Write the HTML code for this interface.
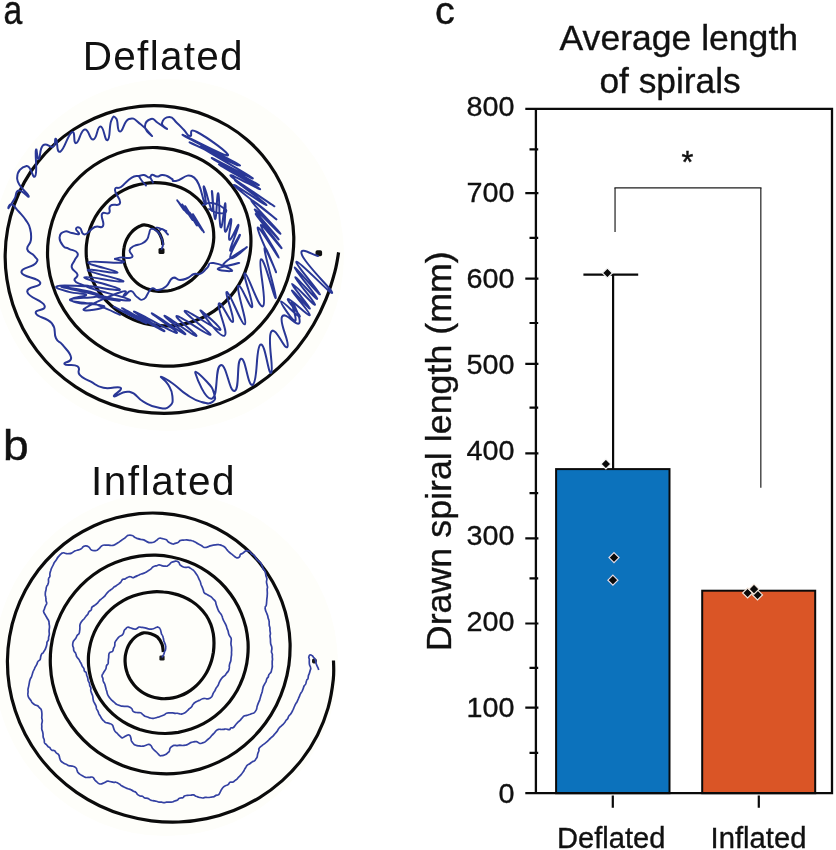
<!DOCTYPE html>
<html><head><meta charset="utf-8"><title>figure</title>
<style>html,body{margin:0;padding:0;background:#fff}body{width:836px;height:850px;overflow:hidden;font-family:"Liberation Sans",sans-serif}svg{display:block}text{filter:grayscale(1)}text.b{stroke:#111;stroke-width:0.35px}text.l{stroke:#111;stroke-width:0.45px}text{font-family:"Liberation Sans",sans-serif;fill:#111}</style>
</head><body>
<svg width="836" height="850" viewBox="0 0 836 850">
<rect width="836" height="850" fill="#fff"/>
<circle cx="168" cy="255" r="176" fill="#fefefa"/><circle cx="166" cy="664" r="172" fill="#fefefa"/>
<!--SPIRALS-->
<path d="M162.9 245.0C162.7 244.0 162.6 241.0 161.8 238.8C161.0 236.6 159.9 233.8 158.3 231.8C156.7 229.8 154.6 228.2 152.2 227.0C149.8 225.8 146.3 224.9 144.2 224.8C142.1 224.7 141.1 225.6 139.6 226.3C138.1 227.0 136.6 227.9 135.2 228.9C133.8 229.9 132.5 231.1 131.3 232.5C130.1 233.8 129.0 235.3 128.1 236.9C127.1 238.5 126.3 240.2 125.6 242.0C124.9 243.8 124.4 245.7 124.1 247.6C123.7 249.6 123.5 251.6 123.5 253.7C123.5 255.7 123.6 257.8 123.9 259.9C124.2 262.0 124.7 264.1 125.4 266.2C126.2 268.3 127.1 270.3 128.1 272.3C129.2 274.3 130.5 276.2 132.0 278.0C133.5 279.7 135.1 281.4 137.0 282.9C138.8 284.4 140.8 285.7 142.9 286.9C145.0 288.0 147.2 288.9 149.5 289.6C151.8 290.3 154.2 290.8 156.7 291.1C159.1 291.4 161.5 291.4 164.0 291.2C166.4 291.1 168.9 290.7 171.3 290.2C173.7 289.6 176.0 288.9 178.3 287.9C180.6 287.0 182.9 285.9 185.0 284.6C187.2 283.4 189.3 281.9 191.3 280.4C193.3 278.8 195.2 277.1 197.0 275.2C198.8 273.4 200.5 271.4 202.1 269.3C203.7 267.1 205.3 264.9 206.6 262.5C208.0 260.1 209.2 257.5 210.2 254.8C211.2 252.2 212.1 249.4 212.7 246.5C213.3 243.6 213.7 240.5 213.8 237.5C213.8 234.4 213.7 231.3 213.2 228.2C212.7 225.1 212.0 221.9 210.9 218.9C209.8 215.9 208.4 212.9 206.7 210.1C205.1 207.3 203.1 204.6 200.9 202.1C198.7 199.6 196.2 197.2 193.5 195.2C190.9 193.1 188.0 191.3 185.0 189.7C182.0 188.1 178.7 186.8 175.5 185.8C172.2 184.7 168.8 183.9 165.4 183.4C161.9 182.9 158.4 182.6 154.9 182.6C151.4 182.6 147.8 182.9 144.3 183.5C140.8 184.0 137.3 184.8 133.8 185.9C130.4 187.0 127.0 188.4 123.7 190.1C120.4 191.8 117.2 193.7 114.2 195.9C111.2 198.1 108.3 200.6 105.7 203.3C103.1 206.0 100.6 209.0 98.4 212.2C96.2 215.3 94.2 218.7 92.6 222.3C90.9 225.8 89.6 229.5 88.5 233.4C87.5 237.2 86.8 241.2 86.4 245.1C86.1 249.1 86.1 253.2 86.4 257.2C86.8 261.2 87.5 265.3 88.5 269.2C89.6 273.1 91.0 277.1 92.7 280.8C94.4 284.5 96.4 288.1 98.8 291.5C101.1 295.0 103.7 298.2 106.6 301.2C109.4 304.2 112.6 307.0 115.9 309.5C119.3 312.1 122.8 314.4 126.6 316.3C130.3 318.3 134.2 320.0 138.2 321.4C142.2 322.8 146.4 323.9 150.6 324.6C154.8 325.4 159.2 325.8 163.5 325.9C167.9 326.0 172.3 325.8 176.6 325.3C181.0 324.7 185.4 323.8 189.7 322.6C194.0 321.3 198.3 319.7 202.4 317.8C206.5 315.8 210.5 313.5 214.3 310.9C218.1 308.2 221.8 305.2 225.1 302.0C228.5 298.7 231.7 295.1 234.5 291.2C237.3 287.4 239.9 283.2 242.0 278.9C244.2 274.6 246.0 270.0 247.4 265.3C248.8 260.6 249.8 255.6 250.4 250.7C251.0 245.8 251.1 240.7 250.8 235.7C250.5 230.7 249.8 225.7 248.6 220.7C247.5 215.8 245.9 210.9 243.9 206.2C241.9 201.5 239.5 196.9 236.7 192.6C234.0 188.3 230.8 184.1 227.3 180.3C223.9 176.4 220.1 172.8 216.0 169.5C211.9 166.3 207.5 163.3 203.0 160.7C198.4 158.1 193.5 155.9 188.6 154.0C183.6 152.2 178.4 150.7 173.2 149.6C167.9 148.6 162.5 147.9 157.1 147.6C151.7 147.4 146.2 147.6 140.8 148.2C135.3 148.8 129.8 149.8 124.5 151.3C119.1 152.8 113.8 154.7 108.7 157.1C103.5 159.5 98.5 162.3 93.8 165.5C89.1 168.7 84.5 172.3 80.3 176.3C76.1 180.3 72.1 184.7 68.6 189.4C65.1 194.1 61.9 199.2 59.2 204.5C56.5 209.8 54.1 215.4 52.3 221.2C50.6 226.9 49.2 232.9 48.4 239.0C47.6 245.0 47.4 251.2 47.6 257.3C47.9 263.4 48.7 269.7 50.0 275.7C51.4 281.7 53.3 287.7 55.6 293.5C57.9 299.3 60.8 304.9 64.1 310.2C67.4 315.5 71.2 320.7 75.3 325.4C79.5 330.1 84.1 334.6 89.0 338.6C93.8 342.6 99.1 346.2 104.6 349.4C110.1 352.6 115.9 355.5 121.9 357.8C127.9 360.1 134.1 361.9 140.4 363.3C146.7 364.7 153.2 365.6 159.7 365.9C166.2 366.3 172.9 366.2 179.4 365.6C186.0 364.9 192.6 363.8 199.1 362.1C205.5 360.5 212.0 358.3 218.1 355.5C224.3 352.8 230.4 349.6 236.2 345.9C241.9 342.1 247.5 337.9 252.6 333.2C257.7 328.5 262.6 323.3 266.9 317.8C271.3 312.3 275.2 306.2 278.6 300.0C282.0 293.7 284.9 287.0 287.2 280.2C289.5 273.4 291.3 266.2 292.4 259.1C293.4 251.9 293.9 244.4 293.8 237.1C293.6 229.8 292.8 222.3 291.4 215.1C289.9 207.9 287.8 200.6 285.2 193.7C282.5 186.8 279.2 180.0 275.4 173.5C271.6 167.1 267.2 160.9 262.4 155.2C257.6 149.5 252.2 144.1 246.4 139.2C240.7 134.3 234.5 129.9 228.0 126.0C221.5 122.1 214.6 118.7 207.6 115.9C200.5 113.1 193.1 110.8 185.7 109.1C178.2 107.5 170.5 106.4 162.9 105.9C155.2 105.5 147.4 105.6 139.7 106.3C132.0 107.1 124.3 108.5 116.7 110.4C109.2 112.4 101.7 115.0 94.5 118.2C87.3 121.4 80.3 125.2 73.6 129.5C67.0 133.8 60.6 138.7 54.6 144.1C48.7 149.5 43.1 155.4 38.1 161.8C33.0 168.1 28.4 175.0 24.4 182.1C20.5 189.2 17.0 196.8 14.2 204.6C11.4 212.4 9.2 220.5 7.7 228.7C6.2 236.9 5.3 245.4 5.2 253.9C5.0 262.3 5.6 270.9 6.9 279.3C8.1 287.8 10.1 296.2 12.8 304.4C15.5 312.6 18.9 320.7 22.9 328.4C26.9 336.1 31.7 343.6 37.0 350.6C42.3 357.6 48.3 364.2 54.7 370.3C61.2 376.3 68.2 381.9 75.7 386.8C83.1 391.8 91.1 396.1 99.3 399.8C107.5 403.4 116.1 406.4 124.9 408.6C133.6 410.8 142.7 412.2 151.7 412.9C160.8 413.6 170.0 413.5 179.1 412.7C188.1 411.8 197.3 410.2 206.1 407.8C214.9 405.5 223.7 402.4 232.1 398.6C240.4 394.9 248.6 390.4 256.3 385.3C264.0 380.2 271.4 374.5 278.2 368.2C285.1 362.0 291.5 355.2 297.4 347.9C303.3 340.6 308.7 332.8 313.4 324.7C318.2 316.6 322.4 308.0 326.0 299.1C329.6 290.3 332.8 279.4 334.9 271.6C337.0 263.8 338.0 255.6 338.6 252.4" fill="none" stroke="#0b0b0b" stroke-width="3.2" stroke-linecap="butt" stroke-linejoin="round"/>
<path d="M163.3 652.1C163.1 650.8 163.0 646.7 162.0 644.2C161.0 641.7 159.3 638.8 157.4 637.0C155.5 635.2 153.1 634.4 150.8 633.7C148.5 633.0 145.4 632.7 143.5 632.8C141.5 633.0 140.4 633.8 139.0 634.6C137.6 635.3 136.2 636.3 134.9 637.4C133.6 638.5 132.4 639.7 131.4 641.1C130.3 642.4 129.3 644.0 128.5 645.5C127.7 647.1 127.0 648.9 126.5 650.6C126.0 652.4 125.6 654.2 125.3 656.1C125.1 658.0 125.0 660.0 125.1 661.9C125.2 663.9 125.4 665.9 125.8 667.9C126.2 669.8 126.8 671.9 127.5 673.8C128.3 675.8 129.2 677.7 130.3 679.6C131.4 681.4 132.7 683.2 134.1 684.9C135.5 686.6 137.1 688.2 138.9 689.7C140.6 691.1 142.6 692.5 144.6 693.6C146.6 694.7 148.8 695.7 151.1 696.5C153.3 697.3 155.7 697.9 158.1 698.2C160.5 698.6 163.0 698.8 165.4 698.7C167.9 698.6 170.4 698.4 172.9 697.9C175.3 697.4 177.8 696.7 180.2 695.8C182.6 694.9 184.9 693.8 187.2 692.5C189.4 691.2 191.6 689.7 193.6 688.0C195.7 686.4 197.6 684.5 199.4 682.5C201.2 680.5 202.9 678.3 204.4 676.0C205.9 673.8 207.3 671.3 208.4 668.8C209.6 666.2 210.7 663.5 211.5 660.8C212.3 658.0 212.9 655.1 213.4 652.2C213.8 649.2 214.0 646.2 214.0 643.1C214.0 640.0 213.8 636.8 213.3 633.7C212.7 630.6 211.9 627.4 210.8 624.3C209.6 621.3 208.1 618.3 206.3 615.5C204.5 612.8 202.3 610.1 199.9 607.8C197.6 605.5 194.9 603.3 192.1 601.5C189.3 599.6 186.3 598.0 183.2 596.7C180.1 595.4 176.8 594.3 173.5 593.6C170.3 592.8 166.9 592.2 163.5 592.0C160.2 591.7 156.7 591.6 153.3 591.8C149.9 592.1 146.5 592.5 143.2 593.2C139.8 593.9 136.4 594.9 133.2 596.1C129.9 597.3 126.7 598.7 123.6 600.4C120.6 602.2 117.5 604.1 114.7 606.3C111.9 608.5 109.2 611.0 106.7 613.6C104.3 616.3 101.9 619.2 99.9 622.3C97.8 625.3 96.0 628.6 94.4 632.1C92.9 635.5 91.6 639.1 90.6 642.8C89.7 646.5 89.0 650.3 88.6 654.2C88.3 658.0 88.3 662.0 88.6 665.9C88.9 669.8 89.6 673.8 90.6 677.7C91.5 681.5 92.9 685.4 94.5 689.0C96.2 692.7 98.2 696.3 100.4 699.7C102.7 703.1 105.3 706.4 108.1 709.4C110.9 712.4 114.0 715.2 117.4 717.7C120.7 720.2 124.3 722.5 128.0 724.5C131.7 726.4 135.7 728.1 139.7 729.5C143.7 730.8 148.0 731.9 152.2 732.5C156.5 733.2 160.8 733.5 165.2 733.5C169.5 733.5 173.9 733.1 178.3 732.4C182.6 731.6 187.0 730.5 191.1 729.1C195.3 727.6 199.5 725.8 203.5 723.7C207.4 721.6 211.3 719.1 214.9 716.3C218.4 713.5 221.9 710.4 225.0 707.0C228.1 703.7 231.1 700.0 233.6 696.1C236.2 692.3 238.5 688.1 240.4 683.8C242.4 679.6 244.0 675.0 245.2 670.4C246.4 665.9 247.3 661.1 247.7 656.3C248.2 651.5 248.3 646.6 248.0 641.7C247.6 636.9 246.9 632.0 245.8 627.2C244.6 622.4 243.1 617.6 241.2 613.0C239.3 608.4 236.9 603.9 234.3 599.7C231.6 595.4 228.5 591.3 225.2 587.4C221.8 583.6 218.1 580.0 214.1 576.8C210.1 573.5 205.7 570.5 201.2 567.9C196.7 565.4 191.9 563.1 186.9 561.3C182.0 559.4 176.8 558.0 171.6 557.0C166.4 556.0 161.0 555.4 155.6 555.2C150.2 555.1 144.7 555.4 139.3 556.1C133.9 556.9 128.5 558.1 123.2 559.7C118.0 561.3 112.8 563.4 107.8 565.9C102.8 568.4 98.0 571.4 93.4 574.7C88.9 578.0 84.6 581.8 80.6 585.8C76.6 589.9 72.9 594.4 69.6 599.1C66.3 603.8 63.3 608.8 60.8 614.1C58.3 619.3 56.2 624.8 54.6 630.4C52.9 636.1 51.7 641.9 51.0 647.8C50.3 653.7 50.1 659.7 50.4 665.7C50.7 671.7 51.4 677.8 52.7 683.7C54.0 689.6 55.7 695.5 58.0 701.2C60.2 706.8 62.9 712.4 66.1 717.7C69.3 723.0 72.9 728.1 77.0 732.9C81.0 737.6 85.5 742.1 90.3 746.2C95.0 750.2 100.3 754.0 105.7 757.2C111.1 760.5 117.0 763.3 122.9 765.7C128.9 768.0 135.1 769.9 141.5 771.3C147.8 772.6 154.3 773.5 160.8 773.7C167.3 774.0 174.0 773.8 180.5 773.0C187.1 772.3 193.7 770.9 200.0 769.1C206.4 767.2 212.8 764.8 218.8 761.9C224.8 759.0 230.8 755.6 236.3 751.7C241.8 747.8 247.1 743.4 252.0 738.6C256.9 733.8 261.4 728.6 265.5 723.0C269.6 717.5 273.2 711.5 276.4 705.3C279.5 699.1 282.1 692.5 284.2 685.8C286.3 679.1 287.9 672.1 288.9 665.1C289.8 658.2 290.2 651.0 290.1 643.8C289.9 636.7 289.1 629.5 287.7 622.4C286.4 615.4 284.4 608.3 281.9 601.5C279.4 594.7 276.2 588.0 272.6 581.7C269.0 575.4 264.8 569.2 260.1 563.5C255.5 557.8 250.3 552.4 244.7 547.5C239.2 542.6 233.1 538.0 226.8 534.1C220.4 530.1 213.6 526.6 206.7 523.7C199.7 520.8 192.4 518.4 185.0 516.7C177.6 514.9 170.0 513.8 162.3 513.3C154.7 512.8 146.9 512.9 139.2 513.6C131.5 514.4 123.8 515.8 116.3 517.8C108.7 519.8 101.3 522.5 94.1 525.7C87.0 529.0 80.0 532.8 73.4 537.2C66.9 541.6 60.6 546.6 54.8 552.0C49.0 557.5 43.5 563.5 38.6 569.8C33.7 576.2 29.3 583.1 25.4 590.2C21.6 597.3 18.3 604.8 15.7 612.6C13.0 620.3 11.0 628.3 9.6 636.4C8.2 644.5 7.5 652.9 7.4 661.2C7.4 669.5 8.0 677.9 9.3 686.2C10.6 694.4 12.6 702.7 15.3 710.8C17.9 718.8 21.3 726.7 25.2 734.3C29.1 741.8 33.7 749.2 38.9 756.1C44.1 763.0 49.9 769.6 56.1 775.7C62.4 781.7 69.2 787.4 76.5 792.4C83.7 797.4 91.5 801.9 99.5 805.7C107.5 809.5 116.0 812.8 124.6 815.3C133.3 817.8 142.3 819.7 151.3 820.8C160.4 821.9 169.7 822.4 178.9 822.0C188.1 821.6 197.5 820.5 206.6 818.6C215.7 816.7 224.9 814.0 233.7 810.5C242.4 807.1 251.1 802.8 259.2 797.8C267.3 792.8 275.1 787.0 282.3 780.6C289.4 774.2 296.1 767.1 302.0 759.4C307.9 751.8 313.1 743.5 317.5 734.9C321.8 726.3 325.5 717.2 328.1 707.9C330.7 698.7 332.4 687.5 333.3 679.5C334.2 671.6 333.5 663.6 333.5 660.4" fill="none" stroke="#0b0b0b" stroke-width="3.2" stroke-linecap="butt" stroke-linejoin="round"/>
<rect x="158.5" y="248" width="6" height="6" rx="1.6" fill="#111"/>
<rect x="315.5" y="250.2" width="6.6" height="6" rx="1.8" fill="#111"/>
<rect x="159.4" y="655.4" width="5.2" height="5.2" rx="1.3" fill="#1a1a1a"/>
<rect x="312.0" y="658.6" width="4.8" height="4.8" rx="1.7" fill="#1a1a1a"/>
<path d="M162.1 657.5C162.2 657.2 162.2 657.3 162.6 656.5C163.0 655.6 163.2 655.6 163.8 654.3C164.3 653.0 164.2 652.8 164.6 651.5C165.1 650.3 165.3 651.0 165.5 649.6C165.8 648.1 165.8 647.8 165.6 646.2C165.5 644.5 165.4 644.9 164.9 643.4C164.4 642.0 164.2 642.2 163.8 640.7C163.4 639.3 163.7 639.4 163.3 638.0C163.0 636.6 163.0 636.6 162.5 635.5C162.1 634.4 162.1 635.7 161.5 634.0C160.9 632.2 161.1 630.9 160.2 629.0C159.4 627.2 159.2 627.7 158.2 627.2C157.3 626.7 158.0 626.8 156.7 627.2C155.4 627.6 155.1 628.3 153.4 628.8C151.7 629.3 151.9 629.1 150.5 629.1C149.1 629.1 149.6 629.2 148.2 628.8C146.8 628.5 146.9 628.2 145.1 627.8C143.2 627.4 142.9 627.5 141.3 627.4C139.6 627.2 140.2 626.7 138.9 627.1C137.6 627.5 137.8 628.4 136.3 628.9C134.8 629.3 135.0 629.2 133.4 628.9C131.7 628.6 131.7 628.1 130.1 627.7C128.5 627.3 128.6 627.0 127.5 627.3C126.3 627.6 126.5 628.0 125.7 628.9C124.8 629.8 124.9 629.4 124.2 630.7C123.6 632.0 123.9 632.5 123.2 633.7C122.5 635.0 122.8 634.5 121.6 635.4C120.4 636.3 120.2 635.8 118.8 637.1C117.5 638.3 117.5 638.6 116.5 640.1C115.4 641.6 115.4 641.1 115.0 642.6C114.5 644.2 115.1 644.4 114.7 645.9C114.3 647.5 114.1 646.9 113.5 648.3C113.0 649.7 113.6 650.0 112.6 651.2C111.6 652.3 110.7 651.7 109.7 652.7C108.7 653.6 109.1 653.6 108.8 654.9C108.6 656.1 108.8 655.9 108.7 657.2C108.6 658.6 108.5 658.4 108.3 660.1C108.1 661.8 108.5 662.2 108.1 663.6C107.6 665.1 107.2 664.1 106.6 665.4C106.0 666.8 106.5 667.1 105.9 668.7C105.3 670.4 105.0 670.2 104.2 671.5C103.5 672.8 103.6 672.4 103.0 673.6C102.4 674.7 102.1 674.6 102.0 675.9C102.0 677.2 102.6 677.0 102.9 678.4C103.2 679.8 102.8 679.7 103.2 681.1C103.7 682.6 104.1 682.6 104.6 683.7C105.2 684.8 104.7 683.9 105.1 685.3C105.5 686.8 105.7 687.5 106.1 689.2C106.6 690.9 106.5 690.3 106.9 691.8C107.3 693.2 106.9 693.0 107.6 694.5C108.2 696.0 108.3 696.0 109.3 697.4C110.4 698.8 110.1 698.5 111.4 699.8C112.7 701.1 112.6 700.9 114.1 702.2C115.6 703.4 115.3 703.6 117.0 704.6C118.7 705.5 119.0 705.3 120.4 705.7C121.8 706.2 120.6 706.0 122.1 706.2C123.6 706.4 124.4 706.3 126.1 706.4C127.8 706.5 127.0 706.1 128.5 706.6C130.0 707.2 130.4 707.3 131.7 708.5C132.9 709.8 131.9 710.4 133.2 711.4C134.5 712.5 134.6 712.1 136.6 712.5C138.6 712.8 139.1 712.3 140.6 712.7C142.1 713.1 141.2 713.2 142.3 714.1C143.4 715.0 143.4 715.3 144.6 716.0C145.9 716.7 145.7 716.3 146.8 716.7C148.0 717.2 147.6 717.1 149.1 717.6C150.6 718.0 151.0 718.3 152.5 718.4C154.1 718.5 153.5 718.3 154.9 718.0C156.4 717.7 156.6 717.6 158.1 717.1C159.7 716.7 159.0 716.8 160.7 716.2C162.3 715.6 162.8 715.6 164.4 714.8C165.9 714.0 165.0 713.7 166.5 713.2C167.9 712.7 168.1 713.0 169.7 712.9C171.4 712.8 171.2 712.8 172.6 712.9C174.1 713.0 173.8 713.2 175.2 713.3C176.6 713.4 176.6 713.1 178.0 713.3C179.4 713.4 179.3 713.9 180.5 714.0C181.8 714.1 181.4 714.1 182.7 713.7C184.0 713.3 184.0 713.3 185.3 712.5C186.6 711.6 186.6 711.4 187.7 710.4C188.8 709.4 188.3 709.7 189.3 708.7C190.4 707.7 190.7 708.0 191.7 706.8C192.7 705.6 192.0 705.5 193.1 704.2C194.1 702.9 194.0 703.1 195.7 702.0C197.3 701.0 197.4 701.2 199.3 700.4C201.1 699.5 201.0 699.3 202.6 698.8C204.2 698.3 204.0 698.5 205.3 698.5C206.5 698.5 206.1 698.9 207.3 698.8C208.5 698.8 208.5 699.0 209.7 698.3C210.9 697.7 210.9 697.9 211.9 696.5C212.8 695.1 212.5 694.7 213.3 693.1C214.1 691.6 214.1 692.0 214.9 690.7C215.7 689.3 215.3 689.4 216.1 688.1C216.9 686.8 217.1 687.1 217.9 685.7C218.7 684.4 218.4 684.5 219.0 683.0C219.7 681.6 219.5 681.7 220.4 680.2C221.3 678.7 221.3 678.7 222.5 677.4C223.8 676.1 223.9 676.5 225.0 675.4C226.0 674.3 225.5 674.4 226.5 673.2C227.4 672.0 227.7 672.3 228.4 670.9C229.2 669.5 229.0 669.2 229.3 667.9C229.5 666.6 229.2 667.2 229.3 666.0C229.5 664.8 229.4 664.8 229.8 663.4C230.2 662.0 230.4 662.4 230.8 660.8C231.1 659.2 230.9 659.1 231.1 657.5C231.3 655.9 231.4 656.2 231.5 654.9C231.6 653.5 231.5 653.8 231.5 652.4C231.5 651.1 231.7 651.1 231.6 649.7C231.6 648.3 231.6 648.5 231.5 647.1C231.3 645.7 231.1 645.7 231.0 644.5C230.9 643.3 230.9 644.0 231.0 642.5C231.1 640.9 231.4 640.3 231.2 638.7C230.9 637.1 230.7 637.8 230.1 636.6C229.4 635.4 229.3 635.7 228.8 634.2C228.2 632.6 228.5 632.3 228.0 630.8C227.5 629.3 227.6 630.0 227.1 628.6C226.6 627.2 226.7 627.0 226.2 625.6C225.6 624.2 225.9 624.9 225.2 623.5C224.5 622.1 224.2 621.9 223.5 620.4C222.8 618.8 223.0 619.1 222.5 617.7C222.1 616.4 222.5 616.7 221.7 615.3C220.9 613.8 220.4 613.5 219.5 612.3C218.6 611.0 219.1 611.9 218.4 610.5C217.8 609.1 217.7 608.8 217.1 607.1C216.5 605.4 216.6 605.7 216.1 604.2C215.6 602.6 216.1 602.6 215.3 601.3C214.6 599.9 214.4 600.3 213.3 599.1C212.2 597.9 212.3 597.8 211.2 596.9C210.1 596.0 210.5 596.5 209.2 595.8C207.9 595.1 207.7 594.9 206.4 594.1C205.1 593.3 205.0 593.8 204.2 592.8C203.4 591.8 203.9 591.8 203.4 590.4C202.9 589.0 203.0 589.1 202.4 587.6C201.8 586.0 201.7 586.3 201.1 584.7C200.6 583.2 200.9 583.3 200.3 581.8C199.7 580.3 199.7 580.7 199.0 579.1C198.2 577.4 198.2 577.1 197.4 575.7C196.6 574.3 196.9 575.0 196.1 573.8C195.2 572.5 195.1 572.1 194.1 571.0C193.2 569.9 193.5 570.4 192.4 569.6C191.3 568.7 191.0 568.6 189.9 567.9C188.8 567.3 189.5 567.2 188.4 567.1C187.3 566.9 187.4 567.5 185.9 567.4C184.4 567.4 184.3 567.5 182.8 566.8C181.2 566.1 181.2 566.0 180.1 564.9C179.1 563.7 179.8 563.5 179.0 562.6C178.1 561.6 178.2 561.7 177.0 561.3C175.9 561.0 176.1 561.1 174.7 561.3C173.2 561.6 172.7 561.7 171.6 562.3C170.4 562.9 171.4 562.6 170.3 563.5C169.3 564.5 168.9 565.1 167.6 565.8C166.4 566.5 167.0 566.2 165.6 566.2C164.2 566.3 164.2 566.3 162.5 565.9C160.8 565.6 160.7 565.0 159.2 564.9C157.7 564.8 158.6 565.0 157.0 565.6C155.4 566.1 154.9 565.9 153.2 566.8C151.5 567.8 152.0 568.2 150.7 569.2C149.5 570.2 149.7 569.8 148.6 570.5C147.4 571.3 147.6 571.3 146.4 571.9C145.2 572.6 145.5 572.6 144.1 573.1C142.7 573.7 142.7 573.4 141.2 574.0C139.7 574.5 140.0 574.5 138.5 575.2C136.9 575.9 136.9 576.0 135.4 576.6C133.8 577.3 134.1 577.6 132.8 577.6C131.4 577.6 131.7 576.7 130.2 576.7C128.7 576.6 128.7 577.0 127.3 577.6C125.8 578.3 126.0 578.6 124.7 579.1C123.4 579.6 123.5 578.7 122.5 579.5C121.5 580.3 121.8 580.9 120.8 582.1C119.9 583.2 120.2 582.7 118.9 583.8C117.6 584.8 117.3 585.1 115.9 586.0C114.6 586.9 114.7 586.4 113.8 587.1C112.9 587.9 113.5 587.8 112.4 588.7C111.3 589.6 111.0 589.5 109.8 590.5C108.6 591.4 109.0 591.0 107.9 592.2C106.8 593.3 106.7 593.6 105.7 594.8C104.7 596.0 105.3 595.6 104.1 596.7C102.8 597.9 102.3 598.1 100.9 599.3C99.6 600.5 100.0 600.1 98.9 601.3C97.8 602.5 98.0 602.6 96.8 603.7C95.6 604.8 95.7 604.5 94.4 605.5C93.1 606.5 92.7 606.3 91.8 607.4C91.0 608.5 92.0 608.5 91.3 609.7C90.5 610.8 89.9 610.5 89.0 611.7C88.0 613.0 88.6 613.1 87.8 614.3C86.9 615.6 86.7 615.3 85.8 616.5C84.8 617.6 85.2 617.5 84.2 618.7C83.2 619.8 83.0 619.8 82.1 620.9C81.2 621.9 81.5 621.6 80.9 622.7C80.3 623.8 80.2 623.7 79.9 625.1C79.7 626.5 80.0 626.3 79.9 627.9C79.9 629.5 79.9 629.5 79.6 631.0C79.4 632.6 79.6 632.6 79.0 633.7C78.4 634.9 78.2 634.1 77.3 635.2C76.5 636.4 76.6 636.9 75.8 638.2C75.0 639.5 75.0 639.2 74.2 640.2C73.5 641.2 73.5 640.6 73.1 642.0C72.7 643.4 72.6 643.9 72.7 645.4C72.8 646.9 73.2 646.3 73.5 647.7C73.8 649.1 73.3 649.1 73.9 650.7C74.5 652.3 75.1 652.0 75.8 653.6C76.6 655.2 75.8 655.1 76.7 656.7C77.5 658.3 78.1 658.3 79.0 659.6C79.9 661.0 79.4 660.6 80.0 661.7C80.6 662.8 80.7 662.5 81.2 663.7C81.8 664.8 81.5 664.8 82.2 666.1C82.9 667.4 83.3 667.4 83.9 668.7C84.5 670.0 83.8 669.9 84.4 671.0C85.1 672.1 85.5 671.6 86.2 672.8C86.8 674.1 86.4 674.3 86.8 675.6C87.2 676.8 87.3 676.3 87.7 677.7C88.0 679.1 87.8 679.3 88.2 680.8C88.7 682.2 89.0 681.8 89.4 683.1C89.8 684.4 89.4 684.4 89.8 685.7C90.1 686.9 90.5 686.3 90.8 687.7C91.0 689.0 90.6 689.3 90.8 690.7C91.1 692.2 91.1 691.7 91.6 693.2C92.1 694.6 92.3 694.6 92.7 696.1C93.1 697.6 92.8 697.4 93.0 698.7C93.2 700.0 93.2 699.9 93.5 701.0C93.8 702.1 93.6 701.4 94.3 702.7C94.9 704.0 95.4 704.4 96.0 706.0C96.6 707.6 96.0 707.3 96.5 708.7C97.1 710.2 97.3 709.9 98.0 711.4C98.6 712.8 98.4 712.9 99.0 714.1C99.7 715.4 99.5 714.8 100.3 716.1C101.1 717.4 101.0 717.7 102.0 719.0C103.0 720.4 103.2 720.3 104.1 721.2C105.1 722.1 104.2 721.8 105.5 722.4C106.8 723.0 107.3 722.8 109.1 723.4C110.9 724.0 111.1 723.8 112.2 724.8C113.3 725.8 112.6 725.5 113.3 727.1C113.9 728.8 113.7 729.3 114.7 730.9C115.7 732.6 116.1 732.2 117.1 733.2C118.0 734.1 117.3 733.6 118.3 734.5C119.2 735.5 119.5 735.9 120.6 736.7C121.7 737.6 121.1 737.9 122.4 737.8C123.8 737.6 123.8 736.8 125.6 736.1C127.5 735.4 127.8 734.5 129.2 735.0C130.6 735.5 130.3 736.5 130.9 738.0C131.5 739.5 130.7 739.2 131.4 740.8C132.2 742.4 132.5 742.8 133.7 744.0C134.8 745.2 134.3 744.7 135.8 745.2C137.2 745.8 137.5 745.7 139.2 745.9C141.0 746.2 140.6 746.4 142.4 746.2C144.2 746.1 144.3 745.7 146.0 745.2C147.7 744.7 147.4 744.2 148.8 744.3C150.1 744.4 150.1 744.7 151.1 745.7C152.1 746.8 151.5 746.9 152.5 748.3C153.6 749.7 153.8 749.7 155.1 750.9C156.3 752.1 156.1 751.6 157.2 752.8C158.4 753.9 158.3 754.4 159.4 755.2C160.6 756.0 160.1 755.8 161.6 755.7C163.0 755.6 163.2 755.7 165.0 754.8C166.7 754.0 166.8 753.6 168.0 752.6C169.2 751.6 168.7 752.3 169.3 751.1C169.9 749.8 169.4 749.3 170.2 748.0C170.9 746.8 171.2 747.0 172.2 746.3C173.2 745.6 172.7 745.6 174.0 745.4C175.3 745.2 175.4 745.6 177.0 745.6C178.5 745.5 178.4 745.3 179.8 745.2C181.3 745.2 180.9 745.5 182.4 745.5C183.9 745.5 183.9 745.5 185.5 745.2C187.1 744.8 186.9 744.8 188.3 744.1C189.7 743.4 189.3 743.2 190.7 742.6C192.1 742.0 192.0 742.1 193.6 741.9C195.2 741.7 194.9 741.4 196.6 741.7C198.3 742.1 198.3 743.0 199.8 743.4C201.3 743.7 200.8 743.4 202.2 743.0C203.6 742.6 203.7 742.6 205.0 741.9C206.3 741.1 205.8 741.2 207.0 740.1C208.2 739.1 208.3 739.2 209.7 737.9C211.0 736.6 210.9 736.4 212.1 735.2C213.2 733.9 213.0 734.3 214.1 733.2C215.1 732.1 214.8 732.0 216.0 730.9C217.2 729.9 217.1 729.8 218.6 729.4C220.1 729.0 220.3 729.5 221.7 729.5C223.1 729.4 222.6 729.4 223.8 729.3C225.0 729.1 224.6 728.9 226.1 729.0C227.6 729.1 228.2 729.9 229.5 729.6C230.7 729.3 229.7 728.5 230.7 727.9C231.7 727.4 232.0 728.4 233.3 727.5C234.6 726.7 234.3 726.2 235.6 724.8C236.8 723.3 236.8 723.4 238.0 722.2C239.2 721.0 238.9 721.5 240.0 720.4C241.1 719.2 241.1 719.1 242.2 717.9C243.3 716.8 242.9 716.8 244.1 716.1C245.3 715.5 245.1 715.9 246.7 715.4C248.4 714.9 249.1 714.8 250.3 714.3C251.5 713.9 250.1 714.1 251.2 713.7C252.2 713.3 252.9 713.8 254.3 712.7C255.7 711.5 255.8 710.6 256.5 709.3C257.1 708.0 256.5 708.9 256.8 707.9C257.0 706.8 257.0 706.8 257.5 705.3C258.0 703.9 258.0 703.9 258.6 702.4C259.3 700.9 259.2 701.2 259.8 699.6C260.3 697.9 260.3 697.8 260.7 696.3C261.1 694.8 261.0 695.2 261.4 694.0C261.7 692.8 261.8 693.3 262.2 691.8C262.5 690.4 262.4 690.2 262.8 688.7C263.2 687.2 262.9 687.6 263.5 686.2C264.1 684.8 264.3 684.7 265.0 683.4C265.7 682.2 265.6 682.8 266.1 681.5C266.6 680.3 266.3 679.9 266.9 678.7C267.4 677.5 267.7 678.0 268.3 677.0C268.8 675.9 268.1 676.1 268.8 674.8C269.6 673.6 270.2 673.4 270.9 672.3C271.6 671.3 271.0 672.3 271.4 670.8C271.7 669.4 272.0 668.7 272.3 667.0C272.5 665.4 272.2 666.1 272.2 664.6C272.2 663.1 272.2 662.9 272.2 661.4C272.3 660.0 272.5 660.4 272.5 659.2C272.5 657.9 272.3 658.2 272.3 656.9C272.2 655.5 272.5 655.6 272.3 654.2C272.1 652.9 271.6 653.3 271.5 651.9C271.4 650.4 271.8 650.4 271.9 648.9C271.9 647.5 271.9 647.7 271.6 646.5C271.3 645.3 271.1 645.6 270.8 644.3C270.5 643.0 270.6 643.0 270.5 641.6C270.4 640.1 270.6 640.3 270.4 638.8C270.3 637.3 270.0 637.2 270.0 635.8C270.0 634.4 270.5 634.9 270.4 633.6C270.4 632.2 270.1 632.3 270.0 630.8C269.8 629.2 270.1 629.2 269.9 627.8C269.8 626.4 269.5 626.9 269.3 625.6C269.1 624.2 269.2 624.2 269.2 622.8C269.1 621.5 269.3 621.8 269.0 620.5C268.8 619.3 268.6 619.6 268.2 618.3C267.8 617.0 268.1 617.1 267.6 615.6C267.1 614.0 267.0 614.0 266.4 612.5C265.8 610.9 265.7 611.1 265.4 609.7C265.1 608.3 264.9 608.4 265.2 607.2C265.4 606.1 265.8 606.8 266.2 605.4C266.6 604.0 266.5 603.7 266.6 602.1C266.8 600.5 266.7 600.8 266.8 599.4C267.0 598.0 267.0 598.0 267.1 596.9C267.3 595.7 267.2 596.4 267.2 595.2C267.3 594.1 267.4 594.2 267.3 592.6C267.3 590.9 267.1 590.6 267.2 589.1C267.2 587.7 267.6 588.5 267.5 587.1C267.4 585.8 267.1 585.6 266.9 584.1C266.6 582.7 266.5 583.2 266.5 581.8C266.5 580.3 267.0 580.4 266.8 578.7C266.7 577.1 266.2 576.9 265.9 575.5C265.6 574.2 265.9 574.8 265.6 573.7C265.3 572.5 265.6 572.4 264.9 571.1C264.3 569.8 263.9 570.2 263.2 568.8C262.4 567.4 262.8 567.5 262.1 565.9C261.4 564.3 261.6 564.2 260.7 562.9C259.7 561.5 259.6 562.0 258.4 560.9C257.3 559.8 257.5 560.2 256.3 558.7C255.2 557.3 255.4 556.8 254.1 555.4C252.9 554.1 252.9 554.9 251.6 553.8C250.4 552.7 250.8 552.2 249.6 551.4C248.3 550.6 248.1 550.9 247.0 550.8C245.9 550.7 246.6 550.3 245.5 551.0C244.3 551.7 244.1 552.3 242.7 553.3C241.3 554.2 241.2 553.6 240.3 554.6C239.5 555.5 240.5 556.0 239.5 556.9C238.6 557.8 238.2 558.0 236.8 557.8C235.4 557.6 235.8 557.2 234.3 556.2C232.9 555.2 232.9 555.0 231.4 553.9C230.0 552.7 230.2 553.2 228.9 551.9C227.6 550.7 227.8 550.6 226.6 549.3C225.5 548.0 225.9 548.0 224.6 547.0C223.3 546.0 223.3 546.1 221.8 545.5C220.3 544.9 220.5 544.8 219.0 544.7C217.4 544.5 217.4 544.7 215.9 544.8C214.4 544.9 214.8 544.8 213.3 545.2C211.8 545.5 211.9 545.4 210.2 545.9C208.5 546.5 208.5 546.9 206.9 547.2C205.3 547.6 205.5 547.7 204.1 547.4C202.7 547.0 203.3 546.8 201.7 545.8C200.0 544.8 199.7 544.7 198.0 543.7C196.2 542.7 196.7 542.9 195.1 542.1C193.6 541.4 193.7 541.2 192.2 540.8C190.7 540.3 190.9 540.5 189.4 540.3C187.9 540.1 188.1 540.0 186.6 539.9C185.0 539.9 185.2 540.0 183.6 540.1C182.0 540.2 182.0 539.7 180.5 540.4C179.0 541.0 179.3 541.8 177.9 542.6C176.4 543.4 176.4 543.0 175.1 543.4C173.7 543.8 174.2 544.2 172.8 544.0C171.3 543.9 171.2 543.5 169.8 542.8C168.4 542.0 168.5 542.0 167.6 541.2C166.7 540.4 167.8 540.5 166.4 539.8C165.0 539.1 164.3 539.0 162.4 538.6C160.5 538.2 160.8 537.8 159.3 538.2C157.7 538.7 158.1 539.2 156.6 540.3C155.1 541.3 155.3 541.6 153.6 542.2C152.0 542.8 151.9 542.6 150.3 542.6C148.8 542.5 149.5 542.8 147.8 542.1C146.0 541.4 145.6 540.6 143.8 539.9C142.1 539.2 142.8 539.8 141.2 539.5C139.6 539.1 139.5 539.1 137.9 538.6C136.3 538.1 136.7 538.4 135.2 537.6C133.6 536.7 134.0 536.1 132.1 535.5C130.3 534.9 129.8 535.1 128.3 535.3C126.8 535.5 127.4 535.7 126.6 536.4C125.7 537.0 126.2 537.0 125.1 537.8C124.1 538.7 123.7 538.7 122.6 539.5C121.5 540.2 122.2 539.8 120.9 540.7C119.7 541.6 119.6 541.8 118.0 542.8C116.4 543.8 116.6 543.9 114.9 544.6C113.3 545.3 113.4 545.4 111.8 545.5C110.1 545.6 110.4 545.2 108.8 545.1C107.3 545.0 107.4 545.1 105.9 545.1C104.4 545.1 104.4 544.8 103.1 545.2C101.7 545.7 101.8 545.9 100.9 546.7C99.9 547.5 100.5 547.4 99.6 548.2C98.7 549.1 98.5 549.3 97.4 550.0C96.3 550.6 97.0 550.6 95.4 550.6C93.8 550.6 93.1 550.9 91.4 550.0C89.7 549.1 90.4 548.3 89.0 547.1C87.5 546.0 87.5 545.9 85.9 545.8C84.4 545.7 84.6 545.9 83.2 546.8C81.9 547.7 82.5 548.2 80.8 549.1C79.2 550.0 78.7 549.6 77.0 550.2C75.3 550.7 75.8 550.6 74.4 551.3C72.9 552.1 73.1 552.5 71.6 553.1C70.1 553.7 70.2 553.6 68.7 553.7C67.1 553.8 67.2 553.7 65.7 553.5C64.2 553.2 64.3 552.5 62.9 552.8C61.5 553.0 61.8 553.2 60.5 554.3C59.3 555.4 59.3 555.4 58.2 556.9C57.0 558.4 57.3 558.4 56.2 559.9C55.1 561.5 55.0 561.4 54.2 562.8C53.4 564.1 53.9 563.6 53.2 565.0C52.5 566.5 52.2 566.8 51.5 568.3C50.9 569.9 51.1 569.4 50.7 570.8C50.2 572.2 50.1 572.1 49.9 573.7C49.7 575.2 50.2 575.3 49.8 576.6C49.5 577.9 48.9 577.0 48.6 578.5C48.2 580.0 48.7 580.5 48.5 582.2C48.2 583.9 48.2 583.6 47.7 584.8C47.1 586.0 46.9 585.4 46.5 586.8C46.0 588.2 46.3 588.5 46.0 589.9C45.7 591.4 45.6 590.8 45.4 592.2C45.2 593.6 45.2 593.6 45.3 595.1C45.5 596.7 45.8 596.5 45.9 597.9C46.1 599.4 45.8 599.2 46.0 600.6C46.2 602.1 46.8 601.9 46.7 603.4C46.5 604.8 46.0 604.4 45.4 606.1C44.7 607.8 44.7 608.1 44.2 609.6C43.7 611.1 43.3 610.2 43.6 611.7C43.9 613.2 44.5 613.5 45.4 615.2C46.3 616.9 46.1 616.4 47.0 618.0C47.8 619.5 48.1 619.3 48.7 620.9C49.3 622.5 48.9 622.4 49.1 624.0C49.4 625.5 49.5 625.3 49.5 626.8C49.5 628.3 49.3 628.2 49.2 629.5C49.1 630.7 49.1 630.2 49.1 631.5C49.1 632.8 49.4 632.8 49.3 634.4C49.2 636.0 48.8 636.0 48.6 637.5C48.4 639.0 48.8 638.7 48.4 640.0C48.0 641.3 47.4 641.1 47.0 642.3C46.6 643.5 47.2 642.9 46.8 644.5C46.5 646.0 46.4 646.4 45.7 648.1C45.1 649.8 45.1 649.5 44.4 650.7C43.7 652.0 43.8 652.0 43.1 652.8C42.3 653.6 42.3 652.8 41.7 653.9C41.0 654.9 41.1 655.2 40.7 656.8C40.3 658.3 40.8 658.2 40.1 659.5C39.3 660.8 38.7 660.4 37.9 661.6C37.0 662.9 37.6 662.8 36.9 664.2C36.3 665.6 36.0 665.5 35.3 666.8C34.6 668.1 34.8 667.9 34.3 669.1C33.7 670.4 33.6 670.6 33.2 671.5C32.8 672.4 33.3 671.1 32.8 672.4C32.4 673.8 32.3 674.8 31.6 676.5C31.0 678.2 30.9 677.5 30.4 678.8C29.9 680.1 30.0 680.0 29.6 681.3C29.3 682.7 29.4 682.7 29.1 684.0C28.9 685.2 29.0 684.7 28.7 686.1C28.4 687.6 28.2 687.9 28.0 689.4C27.9 691.0 28.1 690.5 28.1 691.8C28.0 693.2 27.8 693.0 27.9 694.4C28.1 695.9 27.8 695.7 28.6 697.3C29.4 698.9 29.9 699.0 30.9 700.5C31.9 702.0 31.2 701.6 32.4 702.9C33.5 704.1 33.8 704.3 35.2 705.1C36.6 705.9 36.4 705.0 37.6 705.8C38.7 706.5 38.7 707.0 39.6 707.9C40.6 708.9 40.5 708.2 41.1 709.4C41.7 710.6 41.6 710.9 41.8 712.5C42.0 714.1 41.9 714.0 41.9 715.4C41.9 716.9 41.7 716.6 41.8 718.0C41.9 719.4 42.3 719.2 42.3 720.8C42.3 722.5 41.8 722.8 41.7 724.2C41.6 725.5 41.8 724.7 41.8 726.1C41.9 727.4 41.6 727.6 41.8 729.1C42.0 730.6 42.3 730.4 42.6 731.7C42.9 733.0 42.8 732.6 43.0 734.0C43.2 735.4 42.9 735.5 43.2 737.0C43.5 738.6 43.8 738.2 44.2 739.8C44.5 741.4 44.1 741.8 44.6 743.0C45.2 744.3 45.3 743.5 46.3 744.5C47.2 745.5 47.3 746.0 48.2 746.8C49.1 747.5 48.7 746.5 49.6 747.4C50.5 748.3 50.4 749.3 51.7 750.1C53.0 751.0 53.2 749.9 54.5 750.7C55.7 751.5 55.2 751.8 56.4 753.0C57.5 754.1 57.9 753.6 58.8 755.0C59.7 756.5 59.2 756.9 59.8 758.5C60.4 760.1 60.0 759.9 61.0 761.1C62.1 762.4 62.2 762.3 63.8 763.2C65.3 764.1 65.4 763.8 66.7 764.4C68.1 765.1 67.3 765.2 68.8 765.6C70.2 766.1 70.3 765.6 72.2 766.1C74.0 766.6 74.4 766.6 75.7 767.6C77.0 768.6 76.4 768.6 76.9 769.8C77.5 771.1 77.1 771.1 77.8 772.3C78.6 773.4 78.5 773.1 79.8 774.1C81.2 775.1 81.4 775.1 82.9 775.9C84.4 776.8 83.8 776.9 85.5 777.3C87.1 777.7 87.2 777.4 89.1 777.4C91.0 777.4 91.2 776.6 92.7 777.2C94.2 777.8 93.5 778.4 94.7 779.8C95.9 781.1 95.9 781.1 97.1 782.2C98.3 783.2 97.9 783.3 99.2 783.7C100.4 784.2 100.3 784.1 101.7 783.8C103.2 783.5 103.2 783.3 104.7 782.6C106.2 781.9 105.9 781.4 107.3 781.2C108.8 780.9 108.3 781.2 110.0 781.5C111.8 781.9 112.2 782.2 113.8 782.4C115.4 782.6 114.5 781.8 116.0 782.3C117.5 782.7 117.9 783.1 119.4 784.1C120.9 785.0 120.1 784.9 121.6 785.8C123.1 786.7 123.3 786.7 124.9 787.4C126.6 788.2 126.3 788.2 127.9 788.7C129.4 789.3 129.3 788.9 130.7 789.6C132.2 790.2 132.1 790.4 133.4 791.2C134.8 791.9 134.9 791.5 135.9 792.4C137.0 793.2 136.2 793.4 137.4 794.3C138.5 795.3 139.0 795.4 140.3 796.0C141.7 796.5 141.3 795.8 142.5 796.3C143.6 796.8 143.3 797.3 144.7 797.9C146.1 798.4 146.1 797.8 147.7 798.4C149.3 799.0 149.3 799.4 150.7 800.1C152.1 800.7 151.5 800.3 153.0 800.7C154.5 801.0 154.7 800.9 156.3 801.3C158.0 801.7 157.7 801.8 159.1 802.1C160.5 802.3 160.3 802.1 161.6 802.2C162.9 802.4 162.7 802.7 164.0 802.7C165.3 802.7 165.0 802.4 166.5 802.2C168.0 802.0 167.9 802.1 169.5 802.0C171.1 802.0 171.0 802.3 172.4 802.0C173.8 801.7 173.3 801.5 174.6 801.0C176.0 800.5 176.2 800.8 177.5 800.1C178.7 799.4 178.0 798.9 179.4 798.3C180.9 797.6 181.6 798.2 183.0 797.6C184.3 796.9 183.3 796.6 184.4 796.0C185.6 795.4 185.5 795.6 187.2 795.4C188.9 795.2 189.1 795.3 190.8 795.2C192.5 795.0 192.1 794.6 193.5 794.9C194.9 795.2 194.6 795.6 196.0 796.3C197.5 796.9 197.1 796.7 198.8 797.2C200.6 797.7 200.9 798.0 202.6 798.0C204.3 798.1 203.7 797.5 205.0 797.4C206.4 797.3 206.1 797.6 207.8 797.5C209.4 797.5 209.6 797.4 211.2 797.1C212.8 796.9 212.6 797.0 213.9 796.6C215.2 796.1 214.8 795.9 216.0 795.4C217.3 794.9 217.4 795.7 218.5 794.7C219.7 793.8 219.5 793.4 220.3 791.9C221.2 790.5 220.8 790.5 221.7 789.2C222.7 787.8 222.8 787.7 223.9 786.7C225.0 785.8 224.6 786.2 225.8 785.6C226.9 785.0 227.0 785.5 228.1 784.6C229.3 783.7 228.8 782.9 230.0 782.2C231.3 781.6 231.4 782.6 232.7 782.1C234.1 781.6 234.1 781.2 235.2 780.4C236.4 779.5 236.2 779.9 237.1 779.0C238.0 778.2 237.5 778.3 238.5 777.2C239.6 776.1 239.7 776.3 240.9 774.9C242.2 773.5 242.3 773.2 243.1 771.9C244.0 770.7 243.4 771.4 244.2 770.2C244.9 768.9 245.0 768.5 245.9 767.2C246.7 765.8 246.3 766.1 247.4 765.1C248.5 764.1 248.9 764.4 250.1 763.5C251.4 762.6 250.9 762.5 252.0 761.9C253.2 761.2 253.4 761.7 254.4 760.9C255.5 760.1 255.1 760.0 255.9 758.9C256.6 757.9 256.7 758.4 257.1 757.1C257.6 755.8 257.2 755.7 257.7 754.0C258.2 752.2 258.6 752.0 258.9 750.6C259.3 749.2 258.3 749.9 259.0 748.6C259.7 747.3 260.3 747.1 261.7 745.9C263.1 744.6 262.8 745.0 264.2 743.9C265.7 742.8 265.7 742.9 267.1 741.7C268.4 740.6 268.2 740.6 269.2 739.5C270.3 738.5 269.8 738.8 270.9 737.8C272.0 736.8 272.0 737.1 273.2 735.8C274.4 734.5 274.4 734.3 275.5 733.1C276.6 731.8 276.5 732.2 277.3 731.0C278.1 729.9 277.7 729.9 278.6 728.7C279.4 727.6 279.5 727.7 280.5 726.7C281.6 725.7 281.5 725.9 282.5 724.9C283.5 723.9 283.3 724.2 284.3 723.0C285.3 721.8 285.2 721.5 286.1 720.3C287.0 719.2 287.1 719.8 287.7 718.7C288.4 717.7 287.8 717.6 288.6 716.4C289.3 715.2 289.6 715.4 290.5 714.2C291.4 713.0 291.3 713.1 292.0 711.8C292.7 710.5 292.5 710.6 293.2 709.3C293.8 708.0 293.7 708.3 294.3 706.8C295.0 705.3 295.0 705.1 295.7 703.8C296.4 702.5 296.2 703.3 296.9 702.0C297.5 700.8 297.5 700.6 298.2 699.1C298.9 697.5 298.8 697.8 299.4 696.4C300.0 695.0 299.7 695.1 300.4 693.8C301.0 692.5 301.2 692.8 301.9 691.6C302.6 690.3 302.5 690.6 303.0 689.1C303.6 687.6 303.4 687.4 304.1 686.0C304.8 684.7 305.0 685.5 305.7 684.0C306.3 682.6 306.0 681.9 306.6 680.5C307.2 679.0 307.4 679.8 307.9 678.6C308.4 677.3 308.1 677.0 308.4 675.7C308.8 674.3 308.8 674.9 309.3 673.4C309.8 672.0 309.8 671.8 310.2 670.3C310.6 668.9 310.9 669.3 310.7 667.9C310.6 666.5 310.0 666.5 309.6 665.1C309.2 663.6 309.4 664.1 309.3 662.5C309.2 661.0 309.4 660.6 309.3 659.1C309.1 657.6 308.6 658.2 308.8 657.1C309.0 656.0 309.2 655.3 310.1 654.9C310.9 654.5 311.0 654.9 311.9 655.5C312.9 656.1 312.6 656.0 313.5 657.2C314.5 658.3 314.7 658.2 315.4 660.0C316.1 661.7 315.5 661.9 316.2 663.8C316.8 665.8 317.1 665.8 317.8 667.4C318.5 669.1 318.5 669.3 318.7 669.9" fill="none" stroke="#3441a2" stroke-width="1.7" stroke-linejoin="round"/>
<path d="M161.6 249.0C162.0 247.4 163.4 246.7 163.0 243.0C162.6 239.3 161.9 238.3 160.0 235.0C158.1 231.7 158.4 232.1 156.0 230.5C153.6 228.9 152.9 228.1 151.0 229.0C149.1 229.9 150.1 231.2 149.0 234.0C147.9 236.8 148.9 237.0 147.0 239.5C145.1 242.0 145.5 241.8 142.0 243.5C138.5 245.2 137.3 244.2 134.0 246.0C130.7 247.8 130.0 247.6 129.6 250.4C129.2 253.2 133.2 254.5 132.5 256.5C131.8 258.5 129.8 257.8 127.0 258.0C124.2 258.2 125.2 257.2 122.0 257.4C118.8 257.6 116.9 258.5 115.0 258.9" fill="none" stroke="#293796" stroke-width="1.9" stroke-linecap="round" stroke-linejoin="round" opacity="1"/>
<path d="M160.0 230.0C160.8 229.9 160.9 228.3 163.0 229.5C165.1 230.7 166.7 233.2 168.0 234.5" fill="none" stroke="#293796" stroke-width="1.9" stroke-linecap="round" stroke-linejoin="round" opacity="1"/>
<path d="M156.0 227.5C157.2 227.8 157.7 227.6 160.5 228.5C163.3 229.4 164.9 230.3 166.5 231.0" fill="none" stroke="#293796" stroke-width="1.7" stroke-linecap="round" stroke-linejoin="round" opacity="1"/>
<path d="M115.0 258.9C116.8 259.9 128.8 261.7 121.7 262.7C114.6 263.6 89.4 259.8 88.3 262.4C87.2 265.0 117.7 270.4 117.6 272.4C117.5 274.5 86.3 267.8 87.8 270.2C89.4 272.6 124.4 279.6 123.4 281.5C122.5 283.4 85.2 275.0 84.3 277.2C83.3 279.3 119.2 287.1 119.9 289.6C120.5 292.1 84.0 283.8 86.7 286.5C89.4 289.3 126.9 297.1 129.9 299.8C133.0 302.6 101.2 296.9 98.1 296.9C94.9 297.0 127.6 302.7 118.0 300.0C108.4 297.3 67.1 288.3 62.0 287.0C56.9 285.7 96.9 291.5 99.0 295.0C101.1 298.5 68.7 297.1 70.0 300.0C71.3 302.9 100.3 303.6 104.0 306.0C107.7 308.4 79.5 312.7 84.0 309.0C88.5 305.3 110.3 295.5 121.0 292.0C131.7 288.5 121.3 296.3 124.0 296.0C126.7 295.7 127.5 290.7 131.0 291.0C134.5 291.3 133.5 294.9 137.0 297.0C140.5 299.1 140.3 301.1 144.0 299.0C147.7 296.9 147.3 291.4 151.0 289.0C154.7 286.6 154.0 290.6 158.0 290.0C162.0 289.4 162.1 289.8 166.0 286.6C169.9 283.4 168.9 279.8 172.6 278.0C176.3 276.2 176.0 280.0 180.0 280.0C184.0 280.0 184.0 279.6 187.7 278.0C191.4 276.4 190.6 275.1 194.0 274.0C197.4 272.9 197.1 275.3 200.6 273.7C204.1 272.1 203.6 270.9 207.0 268.0C210.4 265.1 206.8 262.3 213.5 263.0C220.2 263.7 231.0 269.0 232.1 270.5C233.3 272.0 216.0 270.6 217.9 268.6C219.7 266.6 237.7 264.1 239.1 263.0C240.5 261.9 221.1 268.6 223.2 264.5C225.2 260.3 244.8 249.0 246.7 247.2C248.7 245.5 232.1 261.2 230.3 257.9C228.5 254.6 240.1 236.8 240.0 234.9C239.9 232.9 230.5 253.1 230.1 250.5C229.7 247.9 238.7 228.0 238.5 225.2C238.3 222.3 231.3 241.3 229.3 239.7C227.4 238.1 232.3 221.6 231.2 219.3C230.0 217.0 226.5 235.3 225.0 231.1C223.5 226.8 226.6 204.3 225.4 203.3C224.3 202.3 222.6 229.9 220.7 227.2C218.8 224.5 219.8 195.4 218.3 193.3C216.8 191.1 216.7 219.7 215.1 219.1C213.4 218.6 212.8 193.3 212.0 191.1C211.2 189.0 214.3 212.2 212.2 211.0C210.0 209.7 205.9 188.3 204.0 186.4C202.2 184.6 207.8 206.4 205.1 204.1C202.5 201.7 201.9 183.8 194.2 177.6C186.4 171.5 181.9 180.6 176.0 181.0C170.1 181.4 174.4 180.3 172.0 179.0C169.6 177.7 169.7 177.1 167.0 176.0C164.3 174.9 164.7 174.9 162.0 175.0C159.3 175.1 159.7 176.6 157.0 176.5C154.3 176.4 154.0 174.4 152.0 174.7C150.0 175.0 151.6 177.4 149.5 177.5C147.4 177.6 146.8 175.4 144.0 175.0C141.2 174.6 141.7 175.6 139.0 176.0C136.3 176.4 136.9 175.3 134.0 176.5C131.1 177.7 131.5 177.7 128.0 180.5C124.5 183.3 124.5 184.5 121.0 187.0C117.5 189.5 115.3 185.7 115.0 190.0C114.7 194.3 121.2 198.8 120.0 203.0C118.8 207.2 113.4 203.0 110.5 205.7C107.6 208.4 111.3 210.8 109.0 213.0C106.7 215.2 103.6 210.5 102.0 214.0C100.4 217.5 104.9 222.5 103.0 226.0C101.1 229.5 99.6 224.8 94.7 227.0C89.8 229.2 88.6 234.1 84.7 234.4C80.8 234.7 82.3 229.4 80.0 228.0C77.7 226.6 76.3 227.4 76.0 229.0C75.7 230.6 80.1 232.9 79.0 234.0C77.9 235.1 75.6 233.6 71.8 233.0C68.0 232.4 67.9 230.5 64.6 231.6C61.3 232.7 60.0 233.5 59.6 237.3C59.2 241.1 60.7 242.8 63.2 245.9C65.7 249.0 65.1 246.9 68.9 248.8C72.7 250.7 76.0 250.0 77.5 253.1C79.0 256.2 76.1 256.5 74.6 260.3C73.1 264.1 71.0 263.7 71.8 267.5C72.6 271.3 76.8 271.2 77.5 274.6C78.2 278.0 73.5 277.7 74.6 280.4C75.7 283.1 78.7 283.2 81.8 284.7C84.9 286.2 92.6 285.7 86.1 286.1C79.6 286.5 62.0 284.6 57.4 286.1C52.8 287.6 61.2 289.6 68.9 291.9C76.6 294.2 85.3 292.8 86.1 294.7C86.9 296.6 73.3 296.7 71.8 299.0C70.3 301.3 75.0 302.2 80.4 303.3C85.8 304.4 86.5 302.5 91.9 303.3C97.3 304.1 93.0 303.1 100.5 306.2C108.0 309.3 114.8 312.5 120.0 314.8" fill="none" stroke="#293796" stroke-width="2.0" stroke-linecap="round" stroke-linejoin="round" opacity="1"/>
<path d="M139.0 176.5C139.8 177.7 140.1 178.6 142.0 181.0C143.9 183.4 144.9 184.3 146.0 185.5" fill="none" stroke="#293796" stroke-width="1.9" stroke-linecap="round" stroke-linejoin="round" opacity="1"/>
<path d="M150.0 177.0C150.8 178.5 152.2 181.0 153.0 182.5" fill="none" stroke="#293796" stroke-width="1.9" stroke-linecap="round" stroke-linejoin="round" opacity="1"/>
<path d="M184.2 210.3C182.4 207.6 176.4 199.4 177.3 200.3C178.1 201.1 186.1 212.5 187.5 213.6C188.8 214.8 181.1 202.9 182.4 204.6C183.7 206.3 191.6 219.6 192.4 220.0C193.1 220.5 184.0 204.8 185.2 206.2C186.4 207.7 195.6 223.8 196.8 225.5C198.1 227.2 188.3 211.2 189.8 212.6C191.3 214.0 201.6 230.2 202.4 230.6C203.3 231.0 192.6 213.7 193.0 214.2C193.4 214.6 201.0 227.4 203.9 232.2" fill="none" stroke="#293796" stroke-width="1.9" stroke-linecap="round" stroke-linejoin="round" opacity="1"/>
<path d="M203.0 205.0C205.7 204.4 206.3 202.4 212.0 203.0C217.7 203.6 217.8 204.3 222.0 207.0C226.2 209.7 227.2 210.2 226.0 212.0C224.8 213.8 223.1 213.9 218.0 213.0C212.9 212.1 211.7 210.2 209.0 209.0" fill="none" stroke="#293796" stroke-width="1.8" stroke-linecap="round" stroke-linejoin="round" opacity="1"/>
<path d="M138.7 319.8C132.1 316.3 111.9 305.7 113.9 306.7C116.0 307.6 144.0 322.8 146.3 323.3C148.6 323.7 117.8 306.2 122.6 308.3C127.4 310.4 161.2 330.4 164.3 331.2C167.4 332.0 130.9 310.9 134.2 311.4C137.5 311.8 171.9 332.5 176.6 333.0C181.3 333.5 149.6 312.8 151.9 313.2C154.1 313.5 181.7 333.7 185.1 334.3C188.5 335.0 161.7 315.2 164.7 315.7C167.6 316.1 193.0 335.9 196.2 336.0C199.5 336.1 173.0 316.4 176.8 316.1C180.6 315.8 208.3 336.3 210.4 334.9C212.5 333.5 182.2 312.1 184.8 310.8C187.3 309.5 215.8 330.0 220.0 330.0C224.2 329.9 199.3 308.9 200.5 310.5C201.7 312.1 219.5 337.7 224.4 335.8C229.3 334.0 216.5 307.4 218.8 303.7C221.1 299.9 230.9 325.0 233.0 321.8C235.2 318.7 223.8 291.2 227.0 291.9C230.1 292.6 241.8 325.8 244.8 324.3C247.8 322.8 236.3 290.8 238.2 286.2C240.2 281.5 250.4 310.4 252.2 306.9C253.9 303.4 242.0 273.4 244.9 273.2C247.8 273.0 258.8 309.8 263.1 306.1C267.4 302.4 257.5 261.4 260.9 259.3C264.3 257.1 274.8 300.9 275.8 298.0C276.8 295.2 264.5 255.6 264.5 248.5C264.6 241.5 277.7 277.2 275.9 271.6C274.1 266.1 256.9 231.6 257.7 227.8C258.5 224.0 278.1 258.1 278.9 257.5C279.7 256.8 260.1 227.7 260.8 225.2C261.5 222.7 282.9 251.0 281.5 248.0C280.1 245.0 256.4 216.3 255.7 214.0C255.0 211.6 279.0 240.6 278.7 239.4C278.4 238.2 254.1 211.0 254.6 209.5C255.1 207.9 281.3 236.0 280.4 233.6C279.5 231.2 252.4 204.4 251.3 200.5C250.1 196.6 280.6 223.1 276.0 219.0C271.4 215.0 236.5 189.0 234.0 185.3C231.4 181.6 266.2 206.4 266.5 205.0C266.8 203.6 233.0 179.8 235.1 180.2C237.2 180.5 275.5 207.4 274.4 206.3C273.2 205.1 234.6 180.5 230.7 175.9C226.8 171.3 263.0 191.9 259.9 188.9C256.7 185.9 219.2 165.5 218.9 164.5C218.6 163.5 260.7 186.8 258.8 185.1C256.9 183.4 213.4 159.9 211.8 158.1C210.2 156.3 255.6 181.2 252.7 178.2C249.8 175.3 205.0 150.5 200.9 147.0C196.8 143.6 240.5 166.5 237.5 165.3C234.5 164.0 189.0 142.3 189.6 142.3C190.3 142.4 241.9 167.4 240.0 165.4C238.2 163.4 186.0 137.5 182.7 134.9C179.4 132.3 223.9 156.3 227.7 155.5C231.5 154.7 207.0 137.2 197.0 132.0C187.0 126.8 193.5 136.5 190.0 136.0C186.5 135.5 187.5 133.5 184.0 130.0C180.5 126.5 180.9 126.5 177.0 123.0C173.1 119.5 173.5 117.0 169.5 117.0C165.5 117.0 162.7 119.8 162.0 123.0C161.3 126.2 168.1 129.0 167.0 129.0C165.9 129.0 162.3 125.7 158.0 123.0C153.7 120.3 154.5 117.9 151.0 119.0C147.5 120.1 144.7 122.5 145.0 127.0C145.3 131.5 153.1 136.7 152.0 136.0C150.9 135.3 147.1 129.0 141.0 124.5C134.9 120.0 134.6 117.1 129.0 119.0C123.4 120.9 123.4 131.7 120.0 131.6C116.6 131.5 118.6 121.6 116.3 118.7C114.0 115.8 113.5 115.2 111.2 120.9C108.9 126.6 110.5 138.7 107.6 140.2C104.7 141.7 104.3 126.8 100.5 126.6C96.7 126.4 97.5 138.7 93.3 139.5C89.1 140.3 89.3 128.5 84.7 129.5C80.1 130.5 79.5 142.4 76.1 143.1C72.7 143.8 76.0 130.0 71.8 132.3C67.6 134.6 64.5 150.0 60.3 151.7C56.1 153.4 57.9 140.1 56.0 138.8C54.1 137.5 56.5 145.0 53.1 146.7C49.7 148.4 46.9 142.0 43.1 145.3C39.3 148.6 40.7 157.6 38.8 158.9C36.9 160.2 36.9 145.7 35.9 150.3C34.9 154.9 37.7 171.9 35.2 176.1C32.7 180.3 31.4 165.3 26.6 166.1C21.8 166.9 16.6 171.0 17.2 179.0C17.8 187.0 28.3 193.1 28.7 196.2C29.1 199.3 22.5 189.7 18.7 190.5C14.9 191.3 17.1 194.4 14.4 199.1C11.7 203.8 9.4 206.6 8.6 208.0C7.8 209.4 8.8 203.4 11.5 204.3C14.2 205.2 14.9 207.3 18.7 211.5C22.5 215.7 22.8 215.5 25.8 220.1C28.8 224.7 28.7 223.3 30.1 228.7C31.5 234.1 31.6 234.7 30.9 240.2C30.2 245.7 26.4 245.3 27.3 249.5C28.2 253.7 32.1 252.3 34.4 256.0C36.7 259.7 39.3 258.8 35.9 263.2C32.5 267.6 20.4 267.4 21.5 272.5C22.6 277.6 38.7 277.3 40.2 282.5C41.7 287.7 26.2 285.8 27.3 291.9C28.4 298.0 42.2 299.8 44.5 305.5C46.8 311.2 34.0 308.7 35.9 313.4C37.8 318.1 46.3 316.6 51.7 323.2C57.1 329.8 53.1 332.6 56.0 338.3C58.9 344.0 58.4 339.5 62.4 344.7C66.4 349.9 70.5 352.5 71.1 357.7C71.7 362.9 62.9 361.8 64.6 364.1C66.3 366.4 73.5 363.4 77.5 366.3C81.5 369.2 76.3 370.9 79.7 374.9C83.1 378.9 84.1 378.0 90.4 381.4C96.7 384.8 95.3 386.1 103.4 387.8C111.5 389.5 117.7 385.5 120.6 387.8C123.5 390.1 111.8 395.3 114.1 396.4C116.4 397.5 121.5 390.3 129.4 391.8C137.3 393.3 136.1 397.7 143.7 401.9C151.3 406.1 151.1 406.5 158.0 407.6C164.9 408.7 165.7 409.3 169.5 406.2C173.3 403.1 172.8 401.9 172.4 396.1C172.0 390.3 171.1 389.8 168.1 384.6C165.1 379.4 159.9 377.1 161.0 376.7C162.1 376.3 165.5 378.4 172.4 383.2C179.3 388.0 179.1 389.7 186.8 394.7C194.5 399.7 194.2 400.0 201.1 401.9C208.0 403.8 209.2 404.2 212.6 401.9C216.0 399.6 215.5 398.7 214.0 393.3C212.5 387.9 211.9 387.2 206.9 381.8C201.9 376.4 194.0 368.7 195.4 373.2C196.8 377.7 205.3 400.7 212.0 398.6C218.7 396.5 214.6 367.2 220.6 365.2C226.6 363.2 229.2 392.7 234.6 391.0C240.0 389.3 236.1 360.4 241.0 358.7C245.9 357.0 247.7 388.3 252.9 384.6C258.1 380.9 255.5 347.9 260.4 344.7C265.3 341.5 268.3 376.1 271.2 372.7C274.1 369.3 266.9 338.7 271.2 331.8C275.5 324.9 284.5 350.9 287.4 346.9C290.3 342.9 278.9 323.1 282.0 316.8C285.1 310.5 296.6 327.2 299.2 323.2C301.8 319.2 292.8 302.4 291.7 301.7C290.6 301.0 297.8 320.9 295.0 320.8C292.2 320.6 279.9 302.3 281.1 301.3C282.4 300.2 297.8 317.3 299.7 316.7C301.5 316.1 285.4 299.4 288.1 299.0C290.8 298.5 308.8 317.3 309.8 315.0C310.8 312.8 291.8 292.4 291.9 290.6C291.9 288.9 309.9 310.3 309.9 308.5C310.0 306.7 290.9 284.9 292.2 283.9C293.6 282.9 314.3 306.5 315.1 304.7C315.9 302.9 294.6 278.9 295.2 277.3C295.7 275.7 317.3 301.3 317.2 298.7C317.0 296.1 293.8 268.8 294.6 267.6C295.3 266.4 319.4 295.8 320.0 294.3C320.5 292.7 293.4 262.1 296.6 261.7C299.9 261.3 330.8 294.7 332.2 292.9C333.7 291.1 305.8 264.9 302.0 255.0C298.2 245.2 313.7 255.7 318.0 256.0" fill="none" stroke="#293796" stroke-width="2.0" stroke-linecap="round" stroke-linejoin="round" opacity="1"/>
<rect x="556.1" y="469.1" width="113.4" height="324.1" fill="#0c72bc" stroke="#0a0a0a" stroke-width="2"/>
<rect x="702.2" y="590.7" width="113" height="202.5" fill="#da5526" stroke="#0a0a0a" stroke-width="2"/>
<path d="M525.3 108.9H833.1M535.9 107.8V794.3M832 107.8V794.3M525.3 793.2H833.1" fill="none" stroke="#0a0a0a" stroke-width="2.3"/>
<path d="M525.3 707.7H538.4M525.3 623.5H538.4M525.3 538.4H538.4M525.3 453.4H538.4M525.3 363.9H538.4M525.3 278.7H538.4M525.3 193.2H538.4M529.5 752.8H538.2M529.5 667.8H538.2M529.5 578.4H538.2M529.5 493.2H538.2M529.5 407.6H538.2M529.5 323.0H538.2M529.5 237.8H538.2M529.5 149.4H538.2M612.8 795.6V807.7M758.8 795.6V807.7" fill="none" stroke="#0a0a0a" stroke-width="2.2"/>
<path d="M613.1 274.7V469M583.4 274.7H638.2" fill="none" stroke="#0a0a0a" stroke-width="2.2"/>
<path d="M615.05 232V187.9M760.8 187.9V487.7" fill="none" stroke="#404040" stroke-width="1.4"/><path d="M614.4 187.9H761.5" fill="none" stroke="#1c1c1c" stroke-width="1.4"/>
<path d="M607.4 268.0L612.4 273L607.4 278.0L602.4 273Z" fill="#0a0a0a" stroke="#f4f4f4" stroke-width="1.2"/>
<path d="M605.9 459.0L610.9 464L605.9 469.0L600.9 464Z" fill="#0a0a0a" stroke="#f4f4f4" stroke-width="1.2"/>
<path d="M614 552.6L619.0 557.6L614 562.6L609.0 557.6Z" fill="#0a0a0a" stroke="#e6dbe6" stroke-width="1.2"/>
<path d="M612.9 575.2L617.9 580.2L612.9 585.2L607.9 580.2Z" fill="#0a0a0a" stroke="#e6dbe6" stroke-width="1.2"/>
<path d="M747.6 588.0L752.6 593L747.6 598.0L742.6 593Z" fill="#0a0a0a" stroke="#f2e6dc" stroke-width="1.2"/>
<path d="M757.5 589.9L762.5 594.9L757.5 599.9L752.5 594.9Z" fill="#0a0a0a" stroke="#f2e6dc" stroke-width="1.2"/>
<path d="M754 584.2L759.0 589.2L754 594.2L749.0 589.2Z" fill="#0a0a0a" stroke="#f2e6dc" stroke-width="1.2"/>
<text x="514.6" y="802.8" font-size="28.5" class="b" text-anchor="end" textLength="16" lengthAdjust="spacingAndGlyphs">0</text>
<text x="514.6" y="717.0" font-size="28.5" class="b" text-anchor="end" textLength="48" lengthAdjust="spacingAndGlyphs">100</text>
<text x="514.6" y="631.2" font-size="28.5" class="b" text-anchor="end" textLength="48" lengthAdjust="spacingAndGlyphs">200</text>
<text x="514.6" y="545.4" font-size="28.5" class="b" text-anchor="end" textLength="48" lengthAdjust="spacingAndGlyphs">300</text>
<text x="514.6" y="459.6" font-size="28.5" class="b" text-anchor="end" textLength="48" lengthAdjust="spacingAndGlyphs">400</text>
<text x="514.6" y="373.8" font-size="28.5" class="b" text-anchor="end" textLength="48" lengthAdjust="spacingAndGlyphs">500</text>
<text x="514.6" y="288.0" font-size="28.5" class="b" text-anchor="end" textLength="48" lengthAdjust="spacingAndGlyphs">600</text>
<text x="514.6" y="202.2" font-size="28.5" class="b" text-anchor="end" textLength="48" lengthAdjust="spacingAndGlyphs">700</text>
<text x="514.6" y="116.4" font-size="28.5" class="b" text-anchor="end" textLength="48" lengthAdjust="spacingAndGlyphs">800</text>
<text x="611.2" y="847.9" font-size="28.7" text-anchor="middle" id="xl1" class="b" textLength="108.3" lengthAdjust="spacingAndGlyphs">Deflated</text>
<text x="758.5" y="847.9" font-size="28.7" text-anchor="middle" id="xl2" class="b" textLength="95.9" lengthAdjust="spacingAndGlyphs">Inflated</text>
<text x="678.8" y="49.5" font-size="35.6" text-anchor="middle" id="t1" class="b" textLength="238.5" lengthAdjust="spacingAndGlyphs">Average length</text>
<text x="670.1" y="92.6" font-size="35.6" text-anchor="middle" id="t2" class="b" textLength="141.4" lengthAdjust="spacingAndGlyphs">of spirals</text>
<text transform="translate(450.9 451.2) rotate(-90)" font-size="35.6" text-anchor="middle" id="yl" class="b" textLength="400" lengthAdjust="spacingAndGlyphs">Drawn spiral length (mm)</text>
<text x="687.5" y="173.4" font-size="30.5" text-anchor="middle" id="ast" stroke="#111" stroke-width="0.45">*</text>
<text x="3.6" y="23.6" font-size="40" id="la" class="l" textLength="18.7" lengthAdjust="spacingAndGlyphs">a</text>
<text x="3.1" y="460.4" font-size="43.2" id="lb" class="l" textLength="25.6" lengthAdjust="spacingAndGlyphs">b</text>
<text x="435.1" y="23.6" font-size="39.5" id="lc" class="l">c</text>
<text x="162.7" y="70.4" font-size="40.5" text-anchor="middle" id="ta" textLength="159.8" lengthAdjust="spacing">Deflated</text>
<text x="162.8" y="495.3" font-size="40.5" text-anchor="middle" id="tb" textLength="143.6" lengthAdjust="spacing">Inflated</text>
</svg>
</body></html>
